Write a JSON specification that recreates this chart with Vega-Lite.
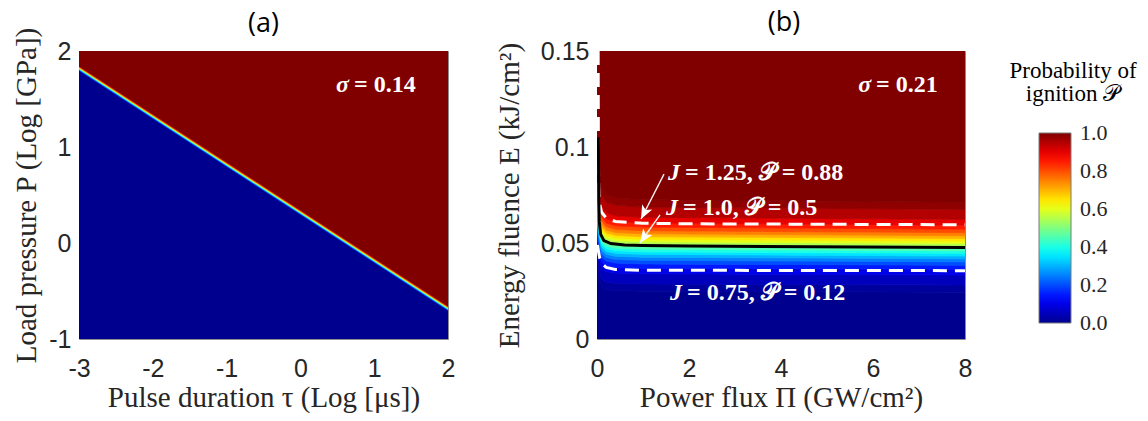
{
  "$schema": "https://vega.github.io/schema/vega-lite/v6.json",
  "padding": {"left": 12, "top": 8, "right": 5, "bottom": 0},
  "background": "white",
  "config": {
    "view": {"stroke": "#8c8c8c", "strokeWidth": 1},
    "axis": {
      "labelFont": "Liberation Sans, Arial, sans-serif", "labelFontSize": 25, "labelColor": "#262626", "labelFlush": false,
      "titleFont": "Liberation Serif, Times New Roman, serif", "titleFontSize": 29, "titleFontWeight": "normal", "titleColor": "#262626",
      "ticks": false, "domain": false, "grid": false
    },
    "axisX": {"labelPadding": 17, "titlePadding": 2},
    "axisY": {"labelPadding": 8, "titlePadding": 7},
    "title": {"font": "Open Sans", "fontSize": 27, "fontWeight": "normal", "color": "#000000", "baseline": "bottom", "anchor": "middle"}
  },
  "datasets": {
    "bandsA": [
      {"tau": -3, "lo": -1, "hi": 1.798, "p": 0}, {"tau": 2, "lo": -1, "hi": -0.702, "p": 0},
      {"tau": -3, "lo": 1.798, "hi": 1.807, "p": 0.17}, {"tau": 2, "lo": -0.702, "hi": -0.693, "p": 0.17},
      {"tau": -3, "lo": 1.807, "hi": 1.815, "p": 0.33}, {"tau": 2, "lo": -0.693, "hi": -0.685, "p": 0.33},
      {"tau": -3, "lo": 1.815, "hi": 1.825, "p": 0.5}, {"tau": 2, "lo": -0.685, "hi": -0.675, "p": 0.5},
      {"tau": -3, "lo": 1.825, "hi": 1.833, "p": 0.67}, {"tau": 2, "lo": -0.675, "hi": -0.667, "p": 0.67},
      {"tau": -3, "lo": 1.833, "hi": 1.842, "p": 0.83}, {"tau": 2, "lo": -0.667, "hi": -0.658, "p": 0.83},
      {"tau": -3, "lo": 1.842, "hi": 2, "p": 1}, {"tau": 2, "lo": -0.658, "hi": 2, "p": 1}
    ],
    "labelsA": [
      {"x": 0.672, "y": 1.646, "lead": "σ", "rest": "= 0.14"}
    ],
    "bandsB": [
      {"pi":0,"lo":0,"hi":0.0358,"p":0},{"pi":0.05,"lo":0,"hi":0.0307,"p":0},{"pi":0.1,"lo":0,"hi":0.0271,"p":0},{"pi":0.2,"lo":0,"hi":0.0258,"p":0},{"pi":0.4,"lo":0,"hi":0.0252,"p":0},{"pi":1,"lo":0,"hi":0.0249,"p":0},{"pi":8,"lo":0,"hi":0.0244,"p":0},
      {"pi":0,"lo":0.0358,"hi":0.0412,"p":0.015},{"pi":0.05,"lo":0.0307,"hi":0.0353,"p":0.015},{"pi":0.1,"lo":0.0271,"hi":0.0312,"p":0.015},{"pi":0.2,"lo":0.0258,"hi":0.0297,"p":0.015},{"pi":0.4,"lo":0.0252,"hi":0.029,"p":0.015},{"pi":1,"lo":0.0249,"hi":0.0287,"p":0.015},{"pi":8,"lo":0.0244,"hi":0.0281,"p":0.015},
      {"pi":0,"lo":0.0412,"hi":0.0488,"p":0.05},{"pi":0.05,"lo":0.0353,"hi":0.0419,"p":0.05},{"pi":0.1,"lo":0.0312,"hi":0.037,"p":0.05},{"pi":0.2,"lo":0.0297,"hi":0.0352,"p":0.05},{"pi":0.4,"lo":0.029,"hi":0.0344,"p":0.05},{"pi":1,"lo":0.0287,"hi":0.034,"p":0.05},{"pi":8,"lo":0.0281,"hi":0.0333,"p":0.05},
      {"pi":0,"lo":0.0488,"hi":0.0531,"p":0.1},{"pi":0.05,"lo":0.0419,"hi":0.0455,"p":0.1},{"pi":0.1,"lo":0.037,"hi":0.0402,"p":0.1},{"pi":0.2,"lo":0.0352,"hi":0.0383,"p":0.1},{"pi":0.4,"lo":0.0344,"hi":0.0374,"p":0.1},{"pi":1,"lo":0.034,"hi":0.0369,"p":0.1},{"pi":8,"lo":0.0333,"hi":0.0363,"p":0.1},
      {"pi":0,"lo":0.0531,"hi":0.0563,"p":0.15},{"pi":0.05,"lo":0.0455,"hi":0.0482,"p":0.15},{"pi":0.1,"lo":0.0402,"hi":0.0426,"p":0.15},{"pi":0.2,"lo":0.0383,"hi":0.0406,"p":0.15},{"pi":0.4,"lo":0.0374,"hi":0.0396,"p":0.15},{"pi":1,"lo":0.0369,"hi":0.0391,"p":0.15},{"pi":8,"lo":0.0363,"hi":0.0384,"p":0.15},
      {"pi":0,"lo":0.0563,"hi":0.0589,"p":0.2},{"pi":0.05,"lo":0.0482,"hi":0.0505,"p":0.2},{"pi":0.1,"lo":0.0426,"hi":0.0446,"p":0.2},{"pi":0.2,"lo":0.0406,"hi":0.0425,"p":0.2},{"pi":0.4,"lo":0.0396,"hi":0.0415,"p":0.2},{"pi":1,"lo":0.0391,"hi":0.041,"p":0.2},{"pi":8,"lo":0.0384,"hi":0.0402,"p":0.2},
      {"pi":0,"lo":0.0589,"hi":0.0612,"p":0.25},{"pi":0.05,"lo":0.0505,"hi":0.0525,"p":0.25},{"pi":0.1,"lo":0.0446,"hi":0.0463,"p":0.25},{"pi":0.2,"lo":0.0425,"hi":0.0442,"p":0.25},{"pi":0.4,"lo":0.0415,"hi":0.0431,"p":0.25},{"pi":1,"lo":0.041,"hi":0.0426,"p":0.25},{"pi":8,"lo":0.0402,"hi":0.0418,"p":0.25},
      {"pi":0,"lo":0.0612,"hi":0.0633,"p":0.3},{"pi":0.05,"lo":0.0525,"hi":0.0543,"p":0.3},{"pi":0.1,"lo":0.0463,"hi":0.0479,"p":0.3},{"pi":0.2,"lo":0.0442,"hi":0.0457,"p":0.3},{"pi":0.4,"lo":0.0431,"hi":0.0446,"p":0.3},{"pi":1,"lo":0.0426,"hi":0.0441,"p":0.3},{"pi":8,"lo":0.0418,"hi":0.0432,"p":0.3},
      {"pi":0,"lo":0.0633,"hi":0.0653,"p":0.35},{"pi":0.05,"lo":0.0543,"hi":0.056,"p":0.35},{"pi":0.1,"lo":0.0479,"hi":0.0494,"p":0.35},{"pi":0.2,"lo":0.0457,"hi":0.0471,"p":0.35},{"pi":0.4,"lo":0.0446,"hi":0.046,"p":0.35},{"pi":1,"lo":0.0441,"hi":0.0454,"p":0.35},{"pi":8,"lo":0.0432,"hi":0.0446,"p":0.35},
      {"pi":0,"lo":0.0653,"hi":0.0672,"p":0.4},{"pi":0.05,"lo":0.056,"hi":0.0576,"p":0.4},{"pi":0.1,"lo":0.0494,"hi":0.0509,"p":0.4},{"pi":0.2,"lo":0.0471,"hi":0.0485,"p":0.4},{"pi":0.4,"lo":0.046,"hi":0.0473,"p":0.4},{"pi":1,"lo":0.0454,"hi":0.0468,"p":0.4},{"pi":8,"lo":0.0446,"hi":0.0459,"p":0.4},
      {"pi":0,"lo":0.0672,"hi":0.0691,"p":0.45},{"pi":0.05,"lo":0.0576,"hi":0.0592,"p":0.45},{"pi":0.1,"lo":0.0509,"hi":0.0523,"p":0.45},{"pi":0.2,"lo":0.0485,"hi":0.0498,"p":0.45},{"pi":0.4,"lo":0.0473,"hi":0.0486,"p":0.45},{"pi":1,"lo":0.0468,"hi":0.0481,"p":0.45},{"pi":8,"lo":0.0459,"hi":0.0472,"p":0.45},
      {"pi":0,"lo":0.0691,"hi":0.0709,"p":0.5},{"pi":0.05,"lo":0.0592,"hi":0.0608,"p":0.5},{"pi":0.1,"lo":0.0523,"hi":0.0537,"p":0.5},{"pi":0.2,"lo":0.0498,"hi":0.0512,"p":0.5},{"pi":0.4,"lo":0.0486,"hi":0.05,"p":0.5},{"pi":1,"lo":0.0481,"hi":0.0493,"p":0.5},{"pi":8,"lo":0.0472,"hi":0.0484,"p":0.5},
      {"pi":0,"lo":0.0709,"hi":0.0728,"p":0.55},{"pi":0.05,"lo":0.0608,"hi":0.0624,"p":0.55},{"pi":0.1,"lo":0.0537,"hi":0.0551,"p":0.55},{"pi":0.2,"lo":0.0512,"hi":0.0525,"p":0.55},{"pi":0.4,"lo":0.05,"hi":0.0513,"p":0.55},{"pi":1,"lo":0.0493,"hi":0.0506,"p":0.55},{"pi":8,"lo":0.0484,"hi":0.0497,"p":0.55},
      {"pi":0,"lo":0.0728,"hi":0.0747,"p":0.6},{"pi":0.05,"lo":0.0624,"hi":0.064,"p":0.6},{"pi":0.1,"lo":0.0551,"hi":0.0566,"p":0.6},{"pi":0.2,"lo":0.0525,"hi":0.0539,"p":0.6},{"pi":0.4,"lo":0.0513,"hi":0.0526,"p":0.6},{"pi":1,"lo":0.0506,"hi":0.052,"p":0.6},{"pi":8,"lo":0.0497,"hi":0.051,"p":0.6},
      {"pi":0,"lo":0.0747,"hi":0.0767,"p":0.65},{"pi":0.05,"lo":0.064,"hi":0.0657,"p":0.65},{"pi":0.1,"lo":0.0566,"hi":0.0581,"p":0.65},{"pi":0.2,"lo":0.0539,"hi":0.0553,"p":0.65},{"pi":0.4,"lo":0.0526,"hi":0.054,"p":0.65},{"pi":1,"lo":0.052,"hi":0.0533,"p":0.65},{"pi":8,"lo":0.051,"hi":0.0524,"p":0.65},
      {"pi":0,"lo":0.0767,"hi":0.0788,"p":0.7},{"pi":0.05,"lo":0.0657,"hi":0.0675,"p":0.7},{"pi":0.1,"lo":0.0581,"hi":0.0597,"p":0.7},{"pi":0.2,"lo":0.0553,"hi":0.0568,"p":0.7},{"pi":0.4,"lo":0.054,"hi":0.0555,"p":0.7},{"pi":1,"lo":0.0533,"hi":0.0548,"p":0.7},{"pi":8,"lo":0.0524,"hi":0.0538,"p":0.7},
      {"pi":0,"lo":0.0788,"hi":0.0811,"p":0.75},{"pi":0.05,"lo":0.0675,"hi":0.0695,"p":0.75},{"pi":0.1,"lo":0.0597,"hi":0.0614,"p":0.75},{"pi":0.2,"lo":0.0568,"hi":0.0585,"p":0.75},{"pi":0.4,"lo":0.0555,"hi":0.0571,"p":0.75},{"pi":1,"lo":0.0548,"hi":0.0564,"p":0.75},{"pi":8,"lo":0.0538,"hi":0.0554,"p":0.75},
      {"pi":0,"lo":0.0811,"hi":0.0837,"p":0.8},{"pi":0.05,"lo":0.0695,"hi":0.0718,"p":0.8},{"pi":0.1,"lo":0.0614,"hi":0.0634,"p":0.8},{"pi":0.2,"lo":0.0585,"hi":0.0604,"p":0.8},{"pi":0.4,"lo":0.0571,"hi":0.059,"p":0.8},{"pi":1,"lo":0.0564,"hi":0.0583,"p":0.8},{"pi":8,"lo":0.0554,"hi":0.0572,"p":0.8},
      {"pi":0,"lo":0.0837,"hi":0.0869,"p":0.85},{"pi":0.05,"lo":0.0718,"hi":0.0745,"p":0.85},{"pi":0.1,"lo":0.0634,"hi":0.0658,"p":0.85},{"pi":0.2,"lo":0.0604,"hi":0.0627,"p":0.85},{"pi":0.4,"lo":0.059,"hi":0.0612,"p":0.85},{"pi":1,"lo":0.0583,"hi":0.0605,"p":0.85},{"pi":8,"lo":0.0572,"hi":0.0593,"p":0.85},
      {"pi":0,"lo":0.0869,"hi":0.0912,"p":0.9},{"pi":0.05,"lo":0.0745,"hi":0.0781,"p":0.9},{"pi":0.1,"lo":0.0658,"hi":0.069,"p":0.9},{"pi":0.2,"lo":0.0627,"hi":0.0658,"p":0.9},{"pi":0.4,"lo":0.0612,"hi":0.0642,"p":0.9},{"pi":1,"lo":0.0605,"hi":0.0634,"p":0.9},{"pi":8,"lo":0.0593,"hi":0.0623,"p":0.9},
      {"pi":0,"lo":0.0912,"hi":0.0988,"p":0.95},{"pi":0.05,"lo":0.0781,"hi":0.0847,"p":0.95},{"pi":0.1,"lo":0.069,"hi":0.0748,"p":0.95},{"pi":0.2,"lo":0.0658,"hi":0.0713,"p":0.95},{"pi":0.4,"lo":0.0642,"hi":0.0696,"p":0.95},{"pi":1,"lo":0.0634,"hi":0.0687,"p":0.95},{"pi":8,"lo":0.0623,"hi":0.0675,"p":0.95},
      {"pi":0,"lo":0.0988,"hi":0.1042,"p":0.985},{"pi":0.05,"lo":0.0847,"hi":0.0893,"p":0.985},{"pi":0.1,"lo":0.0748,"hi":0.0789,"p":0.985},{"pi":0.2,"lo":0.0713,"hi":0.0752,"p":0.985},{"pi":0.4,"lo":0.0696,"hi":0.0734,"p":0.985},{"pi":1,"lo":0.0687,"hi":0.0725,"p":0.985},{"pi":8,"lo":0.0675,"hi":0.0712,"p":0.985},
      {"pi":0,"lo":0.1042,"hi":0.15,"p":1},{"pi":0.05,"lo":0.0893,"hi":0.15,"p":1},{"pi":0.1,"lo":0.0789,"hi":0.15,"p":1},{"pi":0.2,"lo":0.0752,"hi":0.15,"p":1},{"pi":0.4,"lo":0.0734,"hi":0.15,"p":1},{"pi":1,"lo":0.0725,"hi":0.15,"p":1},{"pi":8,"lo":0.0712,"hi":0.15,"p":1}
    ],
    "contourHigh": [
      {"pi":0.025,"E":0.15},{"pi":0.028,"E":0.12},{"pi":0.031,"E":0.095},{"pi":0.036,"E":0.08},{"pi":0.05,"E":0.071},{"pi":0.1,"E":0.066},{"pi":0.2,"E":0.063},{"pi":0.4,"E":0.0612},{"pi":1,"E":0.0603},{"pi":2,"E":0.06},{"pi":8,"E":0.0595}
    ],
    "contourMid": [
      {"pi":0.03,"E":0.105},{"pi":0.035,"E":0.085},{"pi":0.04,"E":0.07},{"pi":0.05,"E":0.061},{"pi":0.08,"E":0.0545},{"pi":0.15,"E":0.0512},{"pi":0.3,"E":0.0497},{"pi":0.6,"E":0.049},{"pi":1,"E":0.0487},{"pi":2,"E":0.0484},{"pi":8,"E":0.0477}
    ],
    "contourLow": [
      {"pi":0.01,"E":0.049},{"pi":0.03,"E":0.046},{"pi":0.06,"E":0.042},{"pi":0.1,"E":0.0395},{"pi":0.2,"E":0.0373},{"pi":0.4,"E":0.0362},{"pi":1,"E":0.0358},{"pi":8,"E":0.0356}
    ],
    "arrows": [
      {"x":1.457,"y":0.0859,"x2":0.957,"y2":0.0625},
      {"x":1.37,"y":0.0646,"x2":0.935,"y2":0.05}
    ],
    "labelsB": [
      {"x":5.98,"y":0.1323,"lead":"σ","rest":"= 0.21"},
      {"x":1.826,"y":0.0865,"lead":"J","rest":"= 1.25, 𝒫 = 0.88"},
      {"x":1.783,"y":0.0682,"lead":"J","rest":"= 1.0, 𝒫 = 0.5"},
      {"x":1.87,"y":0.024,"lead":"J","rest":"= 0.75, 𝒫 = 0.12"}
    ]
  },
  "spacing": 38,
  "resolve": {"scale": {"color": "shared"}},
  "hconcat": [
    {
      "width": 369, "height": 288,
      "title": {"text": "(a)", "offset": -11},
      "layer": [
        {
          "data": {"name": "bandsA"},
          "mark": {"type": "area", "strokeWidth": 0.8, "clip": true, "stroke": {"expr": "scale('color', datum.p)"}},
          "encoding": {
            "x": {"field": "tau", "type": "quantitative", "scale": {"domain": [-3, 2], "nice": false, "zero": false},
                  "axis": {"values": [-3, -2, -1, 0, 1, 2], "labelExpr": "'' + datum.value", "title": "Pulse duration τ (Log [μs])"}},
            "y": {"field": "lo", "type": "quantitative", "stack": null, "scale": {"domain": [-1, 2], "nice": false, "zero": false},
                  "axis": {"values": [-1, 0, 1, 2], "labelExpr": "'' + datum.value", "title": "Load pressure P (Log [GPa])"}},
            "y2": {"field": "hi"},
            "color": {"field": "p", "type": "quantitative",
              "scale": {"domain": [0, 0.125, 0.375, 0.625, 0.875, 1], "range": ["#00008f", "#0000ff", "#00ffff", "#ffff00", "#ff0000", "#800000"], "interpolate": "rgb"},
              "legend": {"type": "gradient", "title": ["Probability of", "ignition 𝒫"], "values": [0.001, 0.2, 0.4, 0.6, 0.8, 0.999], "format": ".1f", "orient": "right", "offset": 27,
                "direction": "vertical", "gradientLength": 190, "gradientThickness": 32, "gradientStrokeColor": "#7a7a7a", "gradientStrokeWidth": 1,
                "titleAnchor": "middle", "titleAlign": "center", "titleFont": "Liberation Serif, Times New Roman, serif", "titleFontSize": 23, "titleFontWeight": "normal", "titleColor": "#000000", "titleLineHeight": 23, "titlePadding": 27, "titleLimit": 400,
                "labelFont": "Liberation Serif, Times New Roman, serif", "labelFontSize": 22, "labelColor": "#262626", "labelOffset": 9, "labelOverlap": false, "padding": 9}}
          }
        },
        {
          "data": {"name": "labelsA"},
          "mark": {"type": "text", "align": "right", "baseline": "middle", "font": "Liberation Serif, Times New Roman, serif", "fontSize": 24, "fontWeight": "bold", "fontStyle": "italic", "color": "#ffffff", "dx": -1},
          "encoding": {"x": {"field": "x", "type": "quantitative"}, "y": {"field": "y", "type": "quantitative"}, "text": {"field": "lead"}}
        },
        {
          "data": {"name": "labelsA"},
          "mark": {"type": "text", "align": "left", "baseline": "middle", "font": "Liberation Serif, Times New Roman, serif", "fontSize": 24, "fontWeight": "bold", "color": "#ffffff", "dx": 4},
          "encoding": {"x": {"field": "x", "type": "quantitative"}, "y": {"field": "y", "type": "quantitative"}, "text": {"field": "rest"}}
        }
      ]
    },
    {
      "width": 368, "height": 288,
      "title": {"text": "(b)", "dx": 3, "offset": 2},
      "layer": [
        {
          "data": {"name": "bandsB"},
          "mark": {"type": "area", "strokeWidth": 0.8, "clip": true, "stroke": {"expr": "scale('color', datum.p)"}},
          "encoding": {
            "x": {"field": "pi", "type": "quantitative", "scale": {"domain": [0, 8], "nice": false},
                  "axis": {"values": [0, 2, 4, 6, 8], "title": "Power flux Π (GW/cm²)"}},
            "y": {"field": "lo", "type": "quantitative", "stack": null, "scale": {"domain": [0, 0.15], "nice": false},
                  "axis": {"values": [0, 0.05, 0.1, 0.15], "format": ".2~f", "title": "Energy fluence E (kJ/cm²)", "titlePadding": 16}},
            "y2": {"field": "hi"},
            "color": {"field": "p", "type": "quantitative",
              "scale": {"domain": [0, 0.125, 0.375, 0.625, 0.875, 1], "range": ["#00008f", "#0000ff", "#00ffff", "#ffff00", "#ff0000", "#800000"], "interpolate": "rgb"},
              "legend": {"type": "gradient", "title": ["Probability of", "ignition 𝒫"], "values": [0.001, 0.2, 0.4, 0.6, 0.8, 0.999], "format": ".1f", "orient": "right", "offset": 27,
                "direction": "vertical", "gradientLength": 190, "gradientThickness": 32, "gradientStrokeColor": "#7a7a7a", "gradientStrokeWidth": 1,
                "titleAnchor": "middle", "titleAlign": "center", "titleFont": "Liberation Serif, Times New Roman, serif", "titleFontSize": 23, "titleFontWeight": "normal", "titleColor": "#000000", "titleLineHeight": 23, "titlePadding": 27, "titleLimit": 400,
                "labelFont": "Liberation Serif, Times New Roman, serif", "labelFontSize": 22, "labelColor": "#262626", "labelOffset": 9, "labelOverlap": false, "padding": 9}}
          }
        },
        {
          "data": {"name": "contourHigh"},
          "mark": {"type": "line", "color": "#ffffff", "strokeWidth": 3, "strokeDash": [14, 8], "clip": true},
          "encoding": {"x": {"field": "pi", "type": "quantitative"}, "y": {"field": "E", "type": "quantitative"}}
        },
        {
          "data": {"name": "contourLow"},
          "mark": {"type": "line", "color": "#ffffff", "strokeWidth": 3, "strokeDash": [14, 8], "clip": true},
          "encoding": {"x": {"field": "pi", "type": "quantitative"}, "y": {"field": "E", "type": "quantitative"}}
        },
        {
          "data": {"name": "contourMid"},
          "mark": {"type": "line", "color": "#000000", "strokeWidth": 3, "clip": true},
          "encoding": {"x": {"field": "pi", "type": "quantitative"}, "y": {"field": "E", "type": "quantitative"}}
        },
        {
          "data": {"name": "arrows"},
          "mark": {"type": "rule", "color": "#f2f2f2", "strokeWidth": 1.4},
          "encoding": {"x": {"field": "x", "type": "quantitative"}, "y": {"field": "y", "type": "quantitative"},
                       "x2": {"field": "x2"}, "y2": {"field": "y2"}}
        },
        {
          "data": {"values": [{"x": 0.957, "y": 0.0625}]},
          "mark": {"type": "point", "shape": "M0,0L0.75,1.8L0,1.35L-0.75,1.8Z", "filled": true, "color": "#ffffff", "opacity": 1, "size": 230, "angle": 207},
          "encoding": {"x": {"field": "x", "type": "quantitative"}, "y": {"field": "y", "type": "quantitative"}}
        },
        {
          "data": {"values": [{"x": 0.935, "y": 0.05}]},
          "mark": {"type": "point", "shape": "M0,0L0.75,1.8L0,1.35L-0.75,1.8Z", "filled": true, "color": "#ffffff", "opacity": 1, "size": 230, "angle": 215},
          "encoding": {"x": {"field": "x", "type": "quantitative"}, "y": {"field": "y", "type": "quantitative"}}
        },
        {
          "data": {"name": "labelsB"},
          "mark": {"type": "text", "align": "right", "baseline": "middle", "font": "Liberation Serif, Times New Roman, serif", "fontSize": 24, "fontWeight": "bold", "fontStyle": "italic", "color": "#ffffff", "dx": -1},
          "encoding": {"x": {"field": "x", "type": "quantitative"}, "y": {"field": "y", "type": "quantitative"}, "text": {"field": "lead"}}
        },
        {
          "data": {"name": "labelsB"},
          "mark": {"type": "text", "align": "left", "baseline": "middle", "font": "Liberation Serif, Times New Roman, serif", "fontSize": 24, "fontWeight": "bold", "color": "#ffffff", "dx": 4},
          "encoding": {"x": {"field": "x", "type": "quantitative"}, "y": {"field": "y", "type": "quantitative"}, "text": {"field": "rest"}}
        }
      ]
    }
  ]
}
